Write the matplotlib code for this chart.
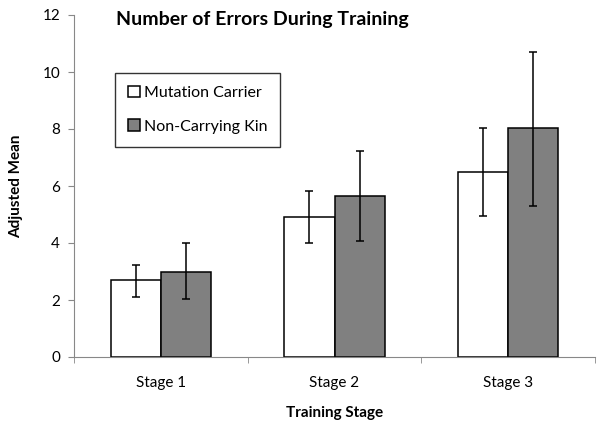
import numpy as np
import matplotlib.pyplot as plt

plt.rcParams['font.family'] = ['Lato', 'DejaVu Sans']

stages = ["Stage 1", "Stage 2", "Stage 3"]
carrier_mean = [2.69, 4.92, 6.48]
carrier_lo = [2.12, 4.01, 4.96]
carrier_hi = [3.23, 5.84, 8.02]
kin_mean = [3.00, 5.66, 8.02]
kin_lo = [2.04, 4.06, 5.29]
kin_hi = [4.00, 7.24, 10.71]

carrier_err = [np.subtract(carrier_mean, carrier_lo), np.subtract(carrier_hi, carrier_mean)]
kin_err = [np.subtract(kin_mean, kin_lo), np.subtract(kin_hi, kin_mean)]

fig = plt.figure(figsize=(6.04, 4.28), dpi=100)
ax = fig.add_axes([74/604, 71/428, 521/604, 342/428])

x = np.arange(len(stages))
w = 0.288
ekw = dict(elinewidth=1.1, capthick=1.1, ecolor='black')
ax.bar(x - w/2, carrier_mean, w, yerr=carrier_err, capsize=3, color='white',
       edgecolor='black', linewidth=1.1, error_kw=ekw, label='Mutation Carrier')
ax.bar(x + w/2, kin_mean, w, yerr=kin_err, capsize=3, color='#808080',
       edgecolor='black', linewidth=1.1, error_kw=ekw, label='Non-Carrying Kin')

ax.set_xlim(-0.5, 2.5)
ax.set_ylim(0, 12)
ax.set_yticks(range(0, 13, 2))
ax.set_xticks(x)
ax.set_xticklabels(stages, fontsize=11)
ax.set_xticks([-0.5, 0.5, 1.5, 2.5], minor=True)
ax.tick_params(axis='x', which='major', length=0, pad=14)
ax.tick_params(axis='x', which='minor', length=4, color='#888888', direction='out')
ax.tick_params(axis='y', length=4, color='#888888', labelsize=11, pad=6)
for s in ['top', 'right']:
    ax.spines[s].set_visible(False)
for s in ['left', 'bottom']:
    ax.spines[s].set_color('#888888')

ax.set_ylabel('Adjusted Mean', fontsize=11, fontweight='bold', labelpad=14)
ax.set_xlabel('Training Stage', fontsize=11, fontweight='bold', labelpad=11)
fig.text(262/604, 1 - 20/428, 'Number of Errors During Training', ha='center', va='center',
         fontsize=14, fontweight='bold')

leg = ax.legend(loc='upper left', bbox_to_anchor=((115 - 74)/521, (428 - 73 - 71)/342),
                borderaxespad=0, fontsize=11.5, frameon=True, fancybox=False, edgecolor='black',
                handlelength=0.75, handleheight=0.75, handletextpad=0.25,
                labelspacing=1.2, borderpad=0.8)
leg.get_frame().set_linewidth(1.0)

fig.savefig('out.png', dpi=100)
